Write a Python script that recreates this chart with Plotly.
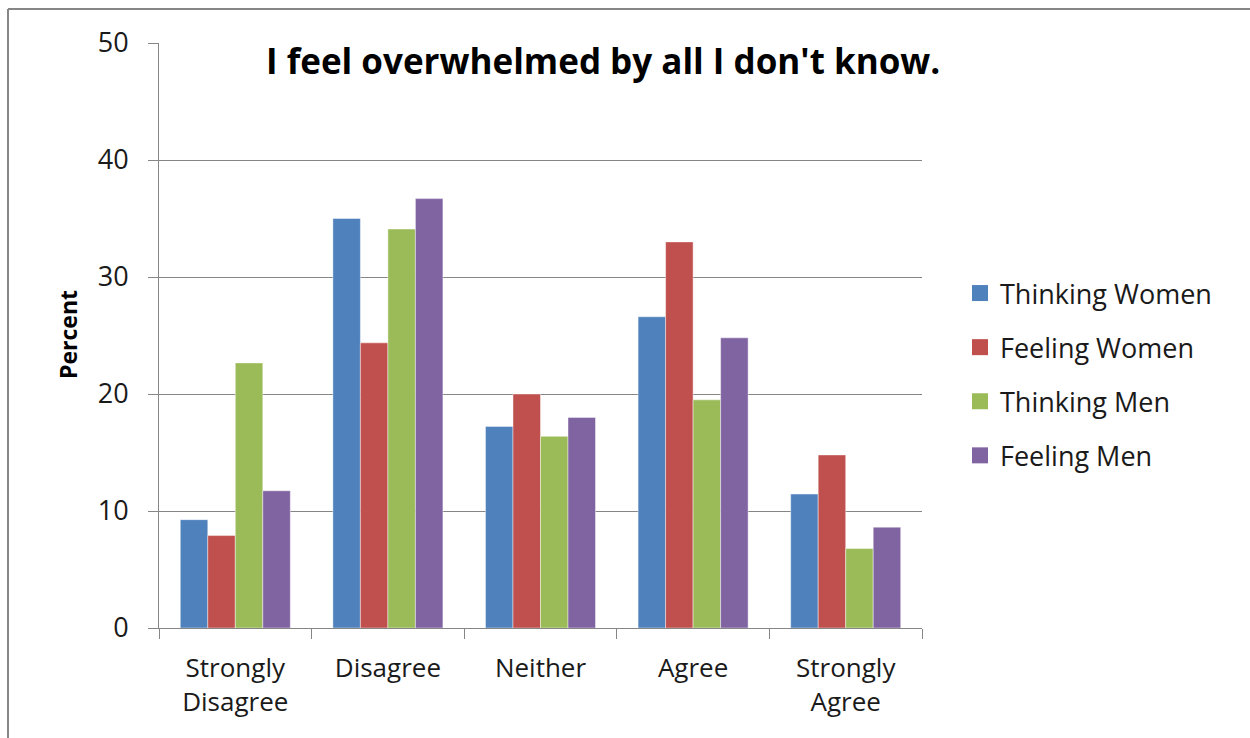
import plotly.graph_objects as go

categories = ["Strongly<br>Disagree", "Disagree", "Neither", "Agree", "Strongly<br>Agree"]
series_names = ["Thinking Women", "Feeling Women", "Thinking Men", "Feeling Men"]
thinking_women = [9.26, 35.0, 17.23, 26.6, 11.45]
feeling_women = [7.9, 24.37, 20.0, 33.0, 14.79]
thinking_men = [22.66, 34.1, 16.38, 19.5, 6.79]
feeling_men = [11.73, 36.7, 18.0, 24.8, 8.62]
colors = ["#4F81BD", "#C0504D", "#9BBB59", "#8064A2"]
y_ticks = [0, 10, 20, 30, 40, 50]

W, H = 1250, 738
L, R, T, B = 159, 922, 43, 628
pw, ph = R - L, B - T

def px_x(x):
    return (x - L) / pw

def px_y(y):
    return (B - y) / ph

FONT = "Open Sans"
fig = go.Figure()
for name, vals, col in zip(series_names, [thinking_women, feeling_women, thinking_men, feeling_men], colors):
    fig.add_trace(go.Bar(
        x=categories, y=vals, name=name, legendgroup=name,
        marker=dict(color=col, line=dict(color="rgba(255,255,255,0.55)", width=0.8)),
        showlegend=False,
    ))
    fig.add_trace(go.Scatter(
        x=[None], y=[None], mode="markers", name=name, legendgroup=name,
        marker=dict(symbol="square", size=17, color=col),
        showlegend=True,
    ))

gray = "#868686"
fig.update_layout(
    width=W, height=H,
    margin=dict(l=L, r=W - R, t=T, b=H - B, pad=0),
    paper_bgcolor="white", plot_bgcolor="white",
    barmode="group", bargap=0.279, bargroupgap=0,
    font=dict(family=FONT, color="#1a1a1a", size=24),
    showlegend=True,
    legend=dict(x=px_x(960), y=px_y(269), xanchor="left", yanchor="top",
                font=dict(family=FONT, size=27, color="#1a1a1a"),
                tracegroupgap=16, itemwidth=30, bgcolor="rgba(0,0,0,0)"),
    xaxis=dict(showline=True, linecolor=gray, linewidth=1, ticks="outside",
               tickson="boundaries", ticklen=10, tickcolor=gray,
               tickfont=dict(family=FONT, size=26, color="#1a1a1a"),
               ticklabelstandoff=17, fixedrange=True),
    yaxis=dict(range=[0, 50], tickvals=y_ticks, showgrid=True, gridcolor=gray,
               gridwidth=1, showline=True, linecolor=gray, linewidth=1,
               ticks="outside", ticklen=10, tickcolor=gray, zeroline=False,
               tickfont=dict(family=FONT, size=27, color="#1a1a1a"),
               ticklabelstandoff=14, fixedrange=True),
    shapes=[
        dict(type="line", xref="paper", yref="paper", x0=px_x(8), x1=px_x(8),
             y0=px_y(9), y1=px_y(745), line=dict(color=gray, width=2)),
        dict(type="line", xref="paper", yref="paper", x0=px_x(8), x1=px_x(1260),
             y0=px_y(9), y1=px_y(9), line=dict(color=gray, width=2)),
    ],
    annotations=[
        dict(text="<b>I feel overwhelmed by all I don't know.</b>", xref="paper", yref="paper",
             x=px_x(603), y=px_y(60), xanchor="center", yanchor="middle", showarrow=False,
             font=dict(family=FONT, size=35, color="black")),
        dict(text="<b>Percent</b>", xref="paper", yref="paper", textangle=-90,
             x=px_x(68), y=px_y(335), xanchor="center", yanchor="middle", showarrow=False,
             font=dict(family=FONT, size=23, color="black")),
    ],
)
fig.write_html("out.html")
